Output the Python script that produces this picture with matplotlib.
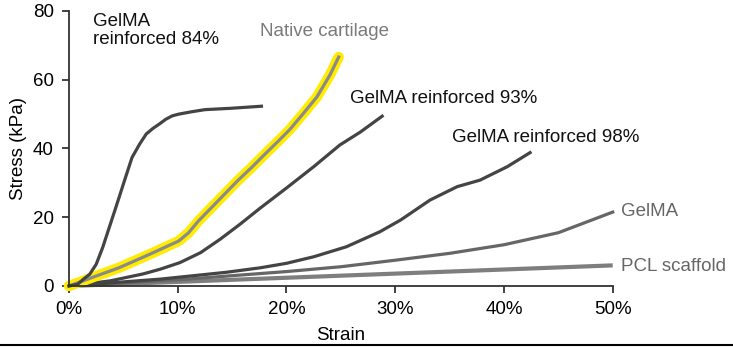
import matplotlib.pyplot as plt
from matplotlib.lines import Line2D

plt.rcParams['font.family'] = ['Liberation Sans', 'DejaVu Sans']

# strain (%) / stress (kPa)
strain_84 = [0, 0.8, 1.3, 1.9, 2.5, 3.1, 3.7, 4.2, 4.6, 5.2, 5.8, 6.5, 7.1, 7.7, 8.3, 8.9, 9.5, 10.1,
             11.3, 12.5, 14.9, 17.7]
stress_84 = [0, 0.5, 1.9, 3.4, 6.3, 11.2, 17.0, 21.8, 25.7, 31.6, 37.4, 41.3, 44.2, 45.8, 47.1, 48.5, 49.5, 50.0,
             50.7, 51.3, 51.7, 52.3]

strain_native = [0, 1.3, 2.5, 4.6, 7.4, 10.1, 11.0, 11.9, 13.1, 14.3, 15.5, 16.8, 18.0, 19.2, 20.3, 21.5,
                 22.8, 24.0, 24.8]
stress_native = [0, 1.5, 2.9, 5.3, 9.2, 13.1, 15.5, 18.9, 22.8, 26.7, 30.6, 34.5, 38.3, 42.0, 45.5, 50.0,
                 55.0, 61.4, 66.6]

strain_93 = [0, 3.8, 6.8, 8.4, 10.2, 12.1, 13.9, 15.7, 17.6, 20.0, 22.5, 24.9, 26.8, 28.8]
stress_93 = [0, 1.5, 3.5, 4.9, 6.8, 9.7, 13.6, 17.9, 22.7, 28.5, 34.7, 41.0, 44.8, 49.4]

strain_98 = [0, 8.4, 14.5, 17.6, 20.0, 22.5, 25.5, 28.6, 30.5, 33.2, 35.7, 37.8, 40.3, 42.4]
stress_98 = [0, 2.0, 4.0, 5.3, 6.6, 8.5, 11.4, 15.8, 19.2, 25.0, 28.9, 30.8, 34.7, 38.8]

strain_gelma = [0, 10, 20, 25, 30, 35, 40, 45, 50]
stress_gelma = [0, 1.8, 4.2, 5.6, 7.5, 9.5, 12.0, 15.5, 21.5]

strain_pcl = [0, 50]
stress_pcl = [0, 6.0]

fig = plt.figure(figsize=(7.33, 3.47), dpi=100)
ax = fig.add_axes([0.0941, 0.1758, 0.7418, 0.7925])

ax.plot(strain_pcl, stress_pcl, color='#7e7e7e', lw=3.0, solid_capstyle='butt', clip_on=False)
ax.plot(strain_gelma, stress_gelma, color='#666666', lw=2.3, clip_on=False)
ax.plot(strain_98, stress_98, color='#444444', lw=2.3, clip_on=False)
ax.plot(strain_93, stress_93, color='#444444', lw=2.3, clip_on=False)
ax.plot(strain_native, stress_native, color='#ffec00', lw=7.5, solid_capstyle='round',
        solid_joinstyle='round', clip_on=False)
ax.plot(strain_native, stress_native, color='#8a8a8a', lw=2.3, clip_on=False)
ax.plot(strain_84, stress_84, color='#444444', lw=2.3, clip_on=False)

fs = 13.5
ax.text(2.2, 79.5, 'GelMA\nreinforced 84%', fontsize=fs, va='top', ha='left', color='#111111', linespacing=1.1)
ax.text(17.6, 76.5, 'Native cartilage', fontsize=fs, va='top', ha='left', color='#7a7a7a')
ax.text(25.85, 57, 'GelMA reinforced 93%', fontsize=fs, va='top', ha='left', color='#111111')
ax.text(35.2, 45.6, 'GelMA reinforced 98%', fontsize=fs, va='top', ha='left', color='#111111')
ax.text(50.8, 24, 'GelMA', fontsize=fs, va='top', ha='left', color='#666666', clip_on=False)
ax.text(50.8, 8.2, 'PCL scaffold', fontsize=fs, va='top', ha='left', color='#666666', clip_on=False)

ax.set_xlim(0, 50)
ax.set_ylim(0, 80)
ax.set_xticks([0, 10, 20, 30, 40, 50])
ax.set_xticklabels(['0%', '10%', '20%', '30%', '40%', '50%'])
ax.set_yticks([0, 20, 40, 60, 80])
ax.spines['top'].set_visible(False)
ax.spines['right'].set_visible(False)
for s in ['left', 'bottom']:
    ax.spines[s].set_color('#333333')
    ax.spines[s].set_linewidth(1.3)
ax.tick_params(colors='#333333', labelcolor='black', labelsize=13.5, length=5, width=1.3, pad=6)
ax.set_xlabel('Strain', fontsize=fs, labelpad=6)
ax.set_ylabel('Stress (kPa)', fontsize=fs, labelpad=4)

fig.add_artist(Line2D([0, 1], [0.006, 0.006], transform=fig.transFigure, color='black', lw=1.5))

fig.savefig('out.png', dpi=100)
